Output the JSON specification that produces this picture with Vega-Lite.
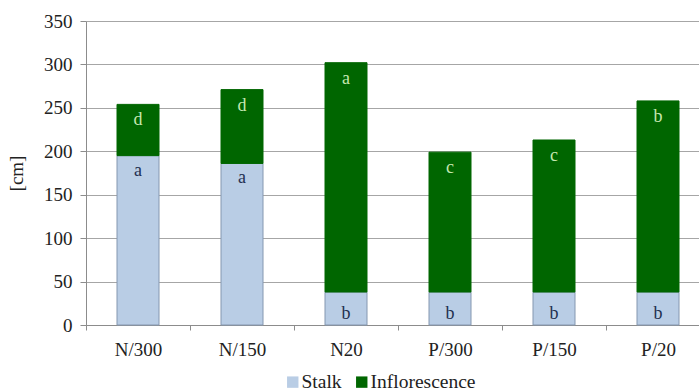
{
  "$schema": "https://vega.github.io/schema/vega-lite/v6.json",
  "autosize": {"type": "none"},
  "width": 613,
  "height": 304,
  "padding": {"left": 86, "top": 21, "right": 0, "bottom": 67},
  "background": "white",
  "config": {
    "font": "Liberation Serif",
    "view": {"stroke": null},
    "legend": {"labelFont": "Liberation Serif"},
    "text": {"font": "Liberation Serif"}
  },
  "data": {
    "values": [
      {"treatment": "N/300", "part": "Stalk", "value": 195, "label": "a"},
      {"treatment": "N/300", "part": "Inflorescence", "value": 59, "label": "d"},
      {"treatment": "N/150", "part": "Stalk", "value": 186, "label": "a"},
      {"treatment": "N/150", "part": "Inflorescence", "value": 85, "label": "d"},
      {"treatment": "N20", "part": "Stalk", "value": 38, "label": "b"},
      {"treatment": "N20", "part": "Inflorescence", "value": 264, "label": "a"},
      {"treatment": "P/300", "part": "Stalk", "value": 38, "label": "b"},
      {"treatment": "P/300", "part": "Inflorescence", "value": 161, "label": "c"},
      {"treatment": "P/150", "part": "Stalk", "value": 38, "label": "b"},
      {"treatment": "P/150", "part": "Inflorescence", "value": 175, "label": "c"},
      {"treatment": "P/20", "part": "Stalk", "value": 38, "label": "b"},
      {"treatment": "P/20", "part": "Inflorescence", "value": 220, "label": "b"}
    ]
  },
  "transform": [
    {"stack": "value", "groupby": ["treatment"], "sort": [{"field": "part", "order": "descending"}], "as": ["v0", "v1"]}
  ],
  "encoding": {
    "x": {
      "field": "treatment",
      "type": "nominal",
      "sort": ["N/300", "N/150", "N20", "P/300", "P/150", "P/20"],
      "scale": {"range": [0, 624], "paddingInner": 0, "paddingOuter": 0},
      "axis": {
        "title": null,
        "labelAngle": 0,
        "labelFont": "Liberation Serif",
        "labelFontSize": 19,
        "labelColor": "#222222",
        "labelPadding": 10,
        "tickBand": "extent",
        "tickSize": 5,
        "tickColor": "#8c8c8c",
        "domainColor": "#8c8c8c",
        "grid": false
      }
    }
  },
  "layer": [
    {
      "mark": {"type": "bar", "width": 42, "strokeWidth": 1},
      "encoding": {
        "y": {
          "field": "v0",
          "type": "quantitative",
          "scale": {"domain": [0, 350], "nice": false},
          "axis": {
            "title": "[cm]",
            "titleFont": "Liberation Serif",
            "titleFontSize": 19,
            "titleFontWeight": "normal",
            "titleColor": "#222222",
            "titlePadding": 17,
            "values": [0, 50, 100, 150, 200, 250, 300, 350],
            "labelFont": "Liberation Serif",
            "labelFontSize": 19,
            "labelColor": "#222222",
            "labelPadding": 8,
            "tickSize": 6,
            "tickColor": "#8c8c8c",
            "domainColor": "#8c8c8c",
            "gridColor": "#a6a6a6",
            "gridWidth": 1.2
          }
        },
        "y2": {"field": "v1"},
        "color": {
          "field": "part",
          "type": "nominal",
          "scale": {"domain": ["Stalk", "Inflorescence"], "range": ["#b9cde5", "#006600"]},
          "legend": {
            "title": null,
            "orient": "none",
            "direction": "horizontal",
            "legendX": 197,
            "legendY": 351,
            "symbolType": "square",
            "symbolSize": 130,
            "symbolStrokeWidth": 0,
            "labelFont": "Liberation Serif",
            "labelFontSize": 19.5,
            "labelColor": "#222222",
            "labelOffset": -1,
            "columnPadding": 10
          }
        },
        "stroke": {
          "field": "part",
          "type": "nominal",
          "scale": {"domain": ["Stalk", "Inflorescence"], "range": ["#8497b0", "#006600"]},
          "legend": null
        }
      }
    },
    {
      "transform": [{"filter": "datum.part == 'Inflorescence'"}],
      "mark": {"type": "text", "font": "Liberation Serif", "fontSize": 18, "baseline": "alphabetic", "dy": 21, "color": "#c5e8b0"},
      "encoding": {
        "y": {"field": "v1", "type": "quantitative"},
        "text": {"field": "label"}
      }
    },
    {
      "transform": [{"filter": "datum.part == 'Stalk' && datum.v1 > 100"}],
      "mark": {"type": "text", "font": "Liberation Serif", "fontSize": 18, "baseline": "alphabetic", "dy": 20, "color": "#1f3050"},
      "encoding": {
        "y": {"field": "v1", "type": "quantitative"},
        "text": {"field": "label"}
      }
    },
    {
      "transform": [{"filter": "datum.part == 'Stalk' && datum.v1 <= 100"}],
      "mark": {"type": "text", "font": "Liberation Serif", "fontSize": 18, "baseline": "alphabetic", "dy": 27, "color": "#1f3050"},
      "encoding": {
        "y": {"field": "v1", "type": "quantitative"},
        "text": {"field": "label"}
      }
    }
  ]
}
